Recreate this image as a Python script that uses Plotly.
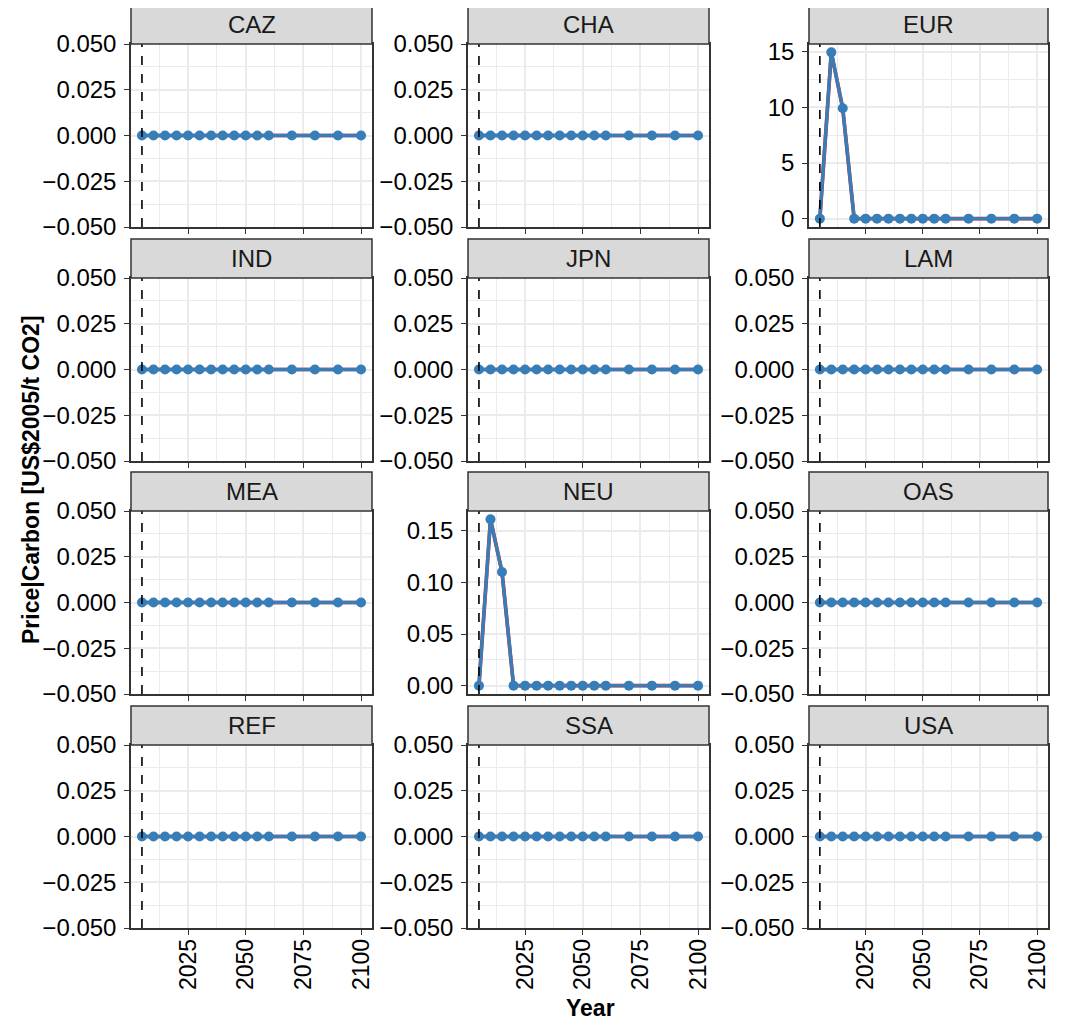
import plotly.graph_objects as go

W, H = 1068, 1024
OFF = 8  # page body margin in the viewer

regions = ["CAZ", "CHA", "EUR", "IND", "JPN", "LAM", "MEA", "NEU", "OAS", "REF", "SSA", "USA"]
years = [2005, 2010, 2015, 2020, 2025, 2030, 2035, 2040, 2045, 2050, 2055, 2060, 2070, 2080, 2090, 2100]

zeros = [0.0] * 16
price_eur = [0.0, 14.95, 9.93, 0, 0, 0, 0, 0, 0, 0, 0, 0, 0, 0, 0, 0]
price_neu = [0.0, 0.161, 0.110, 0, 0, 0, 0, 0, 0, 0, 0, 0, 0, 0, 0, 0]
price = {r: zeros for r in regions}
price["EUR"] = price_eur
price["NEU"] = price_neu

x_ticks = [2025, 2050, 2075, 2100]
x_minor = [2012.5, 2037.5, 2062.5, 2087.5]
ref_year = 2005

y_default_ticks = [-0.05, -0.025, 0.0, 0.025, 0.05]
y_default_text = ["\u22120.050", "\u22120.025", "0.000", "0.025", "0.050"]
y_default_minor = [-0.0375, -0.0125, 0.0125, 0.0375]
y_special = {
    "EUR": ([0, 5, 10, 15], ["0", "5", "10", "15"], [2.5, 7.5, 12.5], [-0.75, 15.70]),
    "NEU": ([0, 0.05, 0.10, 0.15], ["0.00", "0.05", "0.10", "0.15"], [0.025, 0.075, 0.125], [-0.0081, 0.1691]),
}

# panel pixel layout (reference screen pixels)
cols_px = [(131, 372), (468, 709), (809, 1048)]
rows_px = [(44, 227), (278, 461), (511, 694), (745, 928)]
strip_h = 39


def px(x):
    return (x - OFF) / W


def py(y):
    return 1 - (y - OFF) / H


fig = go.Figure()
shapes = []
annotations = []
FONT = "Liberation Sans, Arial, sans-serif"
grid = "#EBEBEB"
dark = "#333333"
FS = 24

for i, r in enumerate(regions):
    row, col = divmod(i, 3)
    n = i + 1
    xa = "xaxis" if n == 1 else f"xaxis{n}"
    ya = "yaxis" if n == 1 else f"yaxis{n}"
    xr = "x" if n == 1 else f"x{n}"
    yr = "y" if n == 1 else f"y{n}"
    x0, x1 = cols_px[col]
    y0, y1 = rows_px[row]
    xd = [px(x0), px(x1)]
    yd = [py(y1), py(y0)]

    if r in y_special:
        yt, ytt, ymin, yrange = y_special[r]
    else:
        yt, ytt, ymin, yrange = y_default_ticks, y_default_text, y_default_minor, [-0.05, 0.05]

    fig.add_trace(go.Scatter(x=years, y=price[r], xaxis=xr, yaxis=yr, mode="lines",
                             line=dict(color="#E41A1C", width=3.7), showlegend=False, hoverinfo="skip"))
    fig.add_trace(go.Scatter(x=years, y=price[r], xaxis=xr, yaxis=yr, mode="lines+markers",
                             line=dict(color="#377EB8", width=3.4),
                             marker=dict(color="#377EB8", size=10),
                             showlegend=False))

    bottom = row == 3
    fig.layout[xa] = dict(
        domain=xd, anchor=yr, range=[2000.25, 2104.75], automargin=False,
        tickmode="array", tickvals=x_ticks, ticktext=[str(v) for v in x_ticks],
        showticklabels=bottom, tickangle=-90, ticklabelstandoff=-5,
        ticks="outside", ticklen=5, tickwidth=1.3, tickcolor=dark,
        showgrid=True, gridcolor=grid, gridwidth=1.5,
        minor=dict(tickmode="array", tickvals=x_minor, showgrid=True, gridcolor=grid, gridwidth=0.8, ticks=""),
        showline=True, linecolor=dark, linewidth=1.5, mirror=True, zeroline=False,
        tickfont=dict(family=FONT, size=23, color="#000000"),
    )
    fig.layout[ya] = dict(
        domain=yd, anchor=xr, range=yrange, automargin=False,
        tickmode="array", tickvals=yt, ticktext=ytt, ticklabelstandoff=3,
        ticks="outside", ticklen=5, tickwidth=1.3, tickcolor=dark,
        showgrid=True, gridcolor=grid, gridwidth=1.5,
        minor=dict(tickmode="array", tickvals=ymin, showgrid=True, gridcolor=grid, gridwidth=0.8, ticks=""),
        showline=True, linecolor=dark, linewidth=1.5, mirror=True, zeroline=False,
        tickfont=dict(family=FONT, size=FS, color="#000000"),
    )

    # dashed reference year line
    shapes.append(dict(type="line", xref=xr, yref=f"{yr} domain", x0=ref_year, x1=ref_year, y0=0, y1=1,
                       line=dict(color="#000000", width=1.6, dash="dash"), layer="above"))
    # strip
    sy0 = py(y0)
    sy1 = py(y0 - strip_h)
    shapes.append(dict(type="rect", xref="paper", yref="paper", x0=xd[0], x1=xd[1], y0=sy0, y1=sy1,
                       fillcolor="#D9D9D9", line=dict(color=dark, width=1.5), layer="above"))
    annotations.append(dict(text=r, xref="paper", yref="paper", x=(xd[0] + xd[1]) / 2, y=(sy0 + sy1) / 2,
                            showarrow=False, xanchor="center", yanchor="middle",
                            font=dict(family=FONT, size=FS, color="#1A1A1A")))

annotations.append(dict(text="<b>Price|Carbon [US$2005/t CO2]</b>", xref="paper", yref="paper",
                        x=px(31), y=py(480), textangle=-90, showarrow=False,
                        xanchor="center", yanchor="middle",
                        font=dict(family=FONT, size=23, color="#000000")))
annotations.append(dict(text="<b>Year</b>", xref="paper", yref="paper",
                        x=px(590), y=py(1008), showarrow=False,
                        xanchor="center", yanchor="middle",
                        font=dict(family=FONT, size=23, color="#000000")))

fig.update_layout(width=W, height=H, margin=dict(l=0, r=0, t=0, b=0, autoexpand=False),
                  autosize=False,
                  paper_bgcolor="white", plot_bgcolor="white",
                  shapes=shapes, annotations=annotations, showlegend=False)

fig.write_html("out.html")
